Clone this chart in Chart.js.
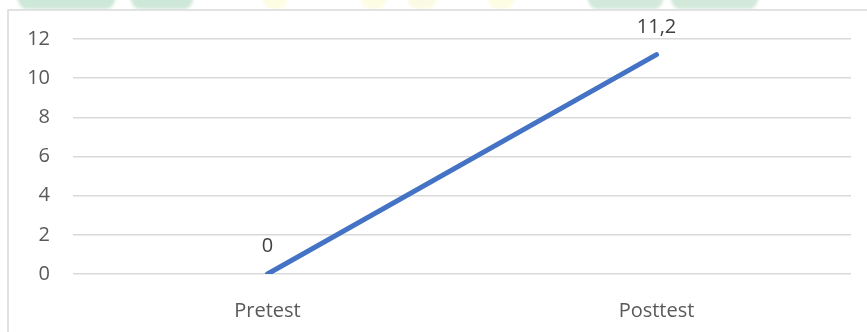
<!DOCTYPE html>
<html>
<head>
<meta charset="utf-8">
<script src="https://cdn.jsdelivr.net/npm/chart.js@4.4.1/dist/chart.umd.min.js"></script>
<style>
  html, body { margin: 0; padding: 0; background: #ffffff; }
  #wrap { position: relative; width: 867px; height: 332px; }
</style>
</head>
<body>
<div id="wrap"><canvas id="lineChart" width="867" height="332"></canvas></div>
<script>
const categories = ['Pretest', 'Posttest'];
const scores = [0, 11.2];
const yTicks = [0, 2, 4, 6, 8, 10, 12];

const textColor = '#595959';
const fontFamily = '"Open Sans", "Liberation Sans", sans-serif';

// faint header strip + frame around the chart
const framePlugin = {
  id: 'frame',
  beforeDraw(chart) {
    const ctx = chart.ctx;
    ctx.save();
    ctx.fillStyle = '#ffffff';
    ctx.fillRect(0, 0, chart.width, chart.height);
    const blobs = [
      [17, 116, 'rgba(190, 224, 202, 0.75)'],
      [130, 194, 'rgba(190, 224, 202, 0.75)'],
      [262, 288, 'rgba(252, 252, 215, 0.7)'],
      [360, 387, 'rgba(252, 252, 215, 0.7)'],
      [407, 437, 'rgba(250, 250, 215, 0.7)'],
      [487, 515, 'rgba(252, 252, 215, 0.7)'],
      [587, 664, 'rgba(195, 226, 205, 0.75)'],
      [670, 759, 'rgba(195, 226, 205, 0.75)']
    ];
    ctx.filter = 'blur(1.5px)';
    blobs.forEach(([a, b, c]) => {
      ctx.fillStyle = c;
      ctx.beginPath();
      ctx.moveTo(a, -4);
      ctx.lineTo(b, -4);
      ctx.quadraticCurveTo(b - 2, 9, b - 10, 9);
      ctx.lineTo(a + 10, 9);
      ctx.quadraticCurveTo(a + 2, 9, a, -4);
      ctx.closePath();
      ctx.fill();
    });
    ctx.filter = 'none';
    ctx.fillStyle = '#ffffff';
    ctx.fillRect(0, 10, chart.width, chart.height);
    ctx.strokeStyle = '#d9d9d9';
    ctx.lineWidth = 1.5;
    ctx.strokeRect(8, 10, chart.width + 20, chart.height + 20);
    ctx.restore();
  }
};

// value labels above each point, decimal comma
const valueLabels = {
  id: 'valueLabels',
  afterDatasetsDraw(chart) {
    const ctx = chart.ctx;
    const meta = chart.getDatasetMeta(0);
    ctx.save();
    ctx.font = '20px ' + fontFamily;
    ctx.fillStyle = '#404040';
    ctx.textAlign = 'center';
    ctx.textBaseline = 'alphabetic';
    meta.data.forEach((pt, i) => {
      const txt = String(scores[i]).replace('.', ',');
      ctx.fillText(txt, pt.x, pt.y - 22);
    });
    ctx.restore();
  }
};

new Chart(document.getElementById('lineChart').getContext('2d'), {
  type: 'line',
  data: {
    labels: categories,
    datasets: [{
      data: scores,
      borderColor: '#4472c4',
      borderWidth: 5,
      borderCapStyle: 'round',
      pointRadius: 0,
      tension: 0,
      fill: false
    }]
  },
  options: {
    responsive: false,
    animation: false,
    layout: { padding: { left: 0, right: 16, top: 39, bottom: 0 } },
    plugins: {
      legend: { display: false },
      tooltip: { enabled: false }
    },
    scales: {
      x: {
        offset: true,
        grid: { display: false },
        border: { display: false },
        afterFit(scale) {
          scale.height = 58;
        },
        ticks: {
          color: textColor,
          font: { family: fontFamily, size: 20 },
          padding: 17,
          maxRotation: 0
        }
      },
      y: {
        min: 0,
        max: 12,
        afterBuildTicks(scale) {
          scale.ticks = yTicks.map(v => ({ value: v }));
        },
        afterFit(scale) {
          scale.width = 73;
        },
        grid: { color: '#d9d9d9', lineWidth: 1.5, drawTicks: false },
        border: { display: false },
        ticks: {
          color: textColor,
          font: { family: fontFamily, size: 20 },
          padding: 23
        }
      }
    }
  },
  plugins: [framePlugin, valueLabels]
});
</script>
</body>
</html>
